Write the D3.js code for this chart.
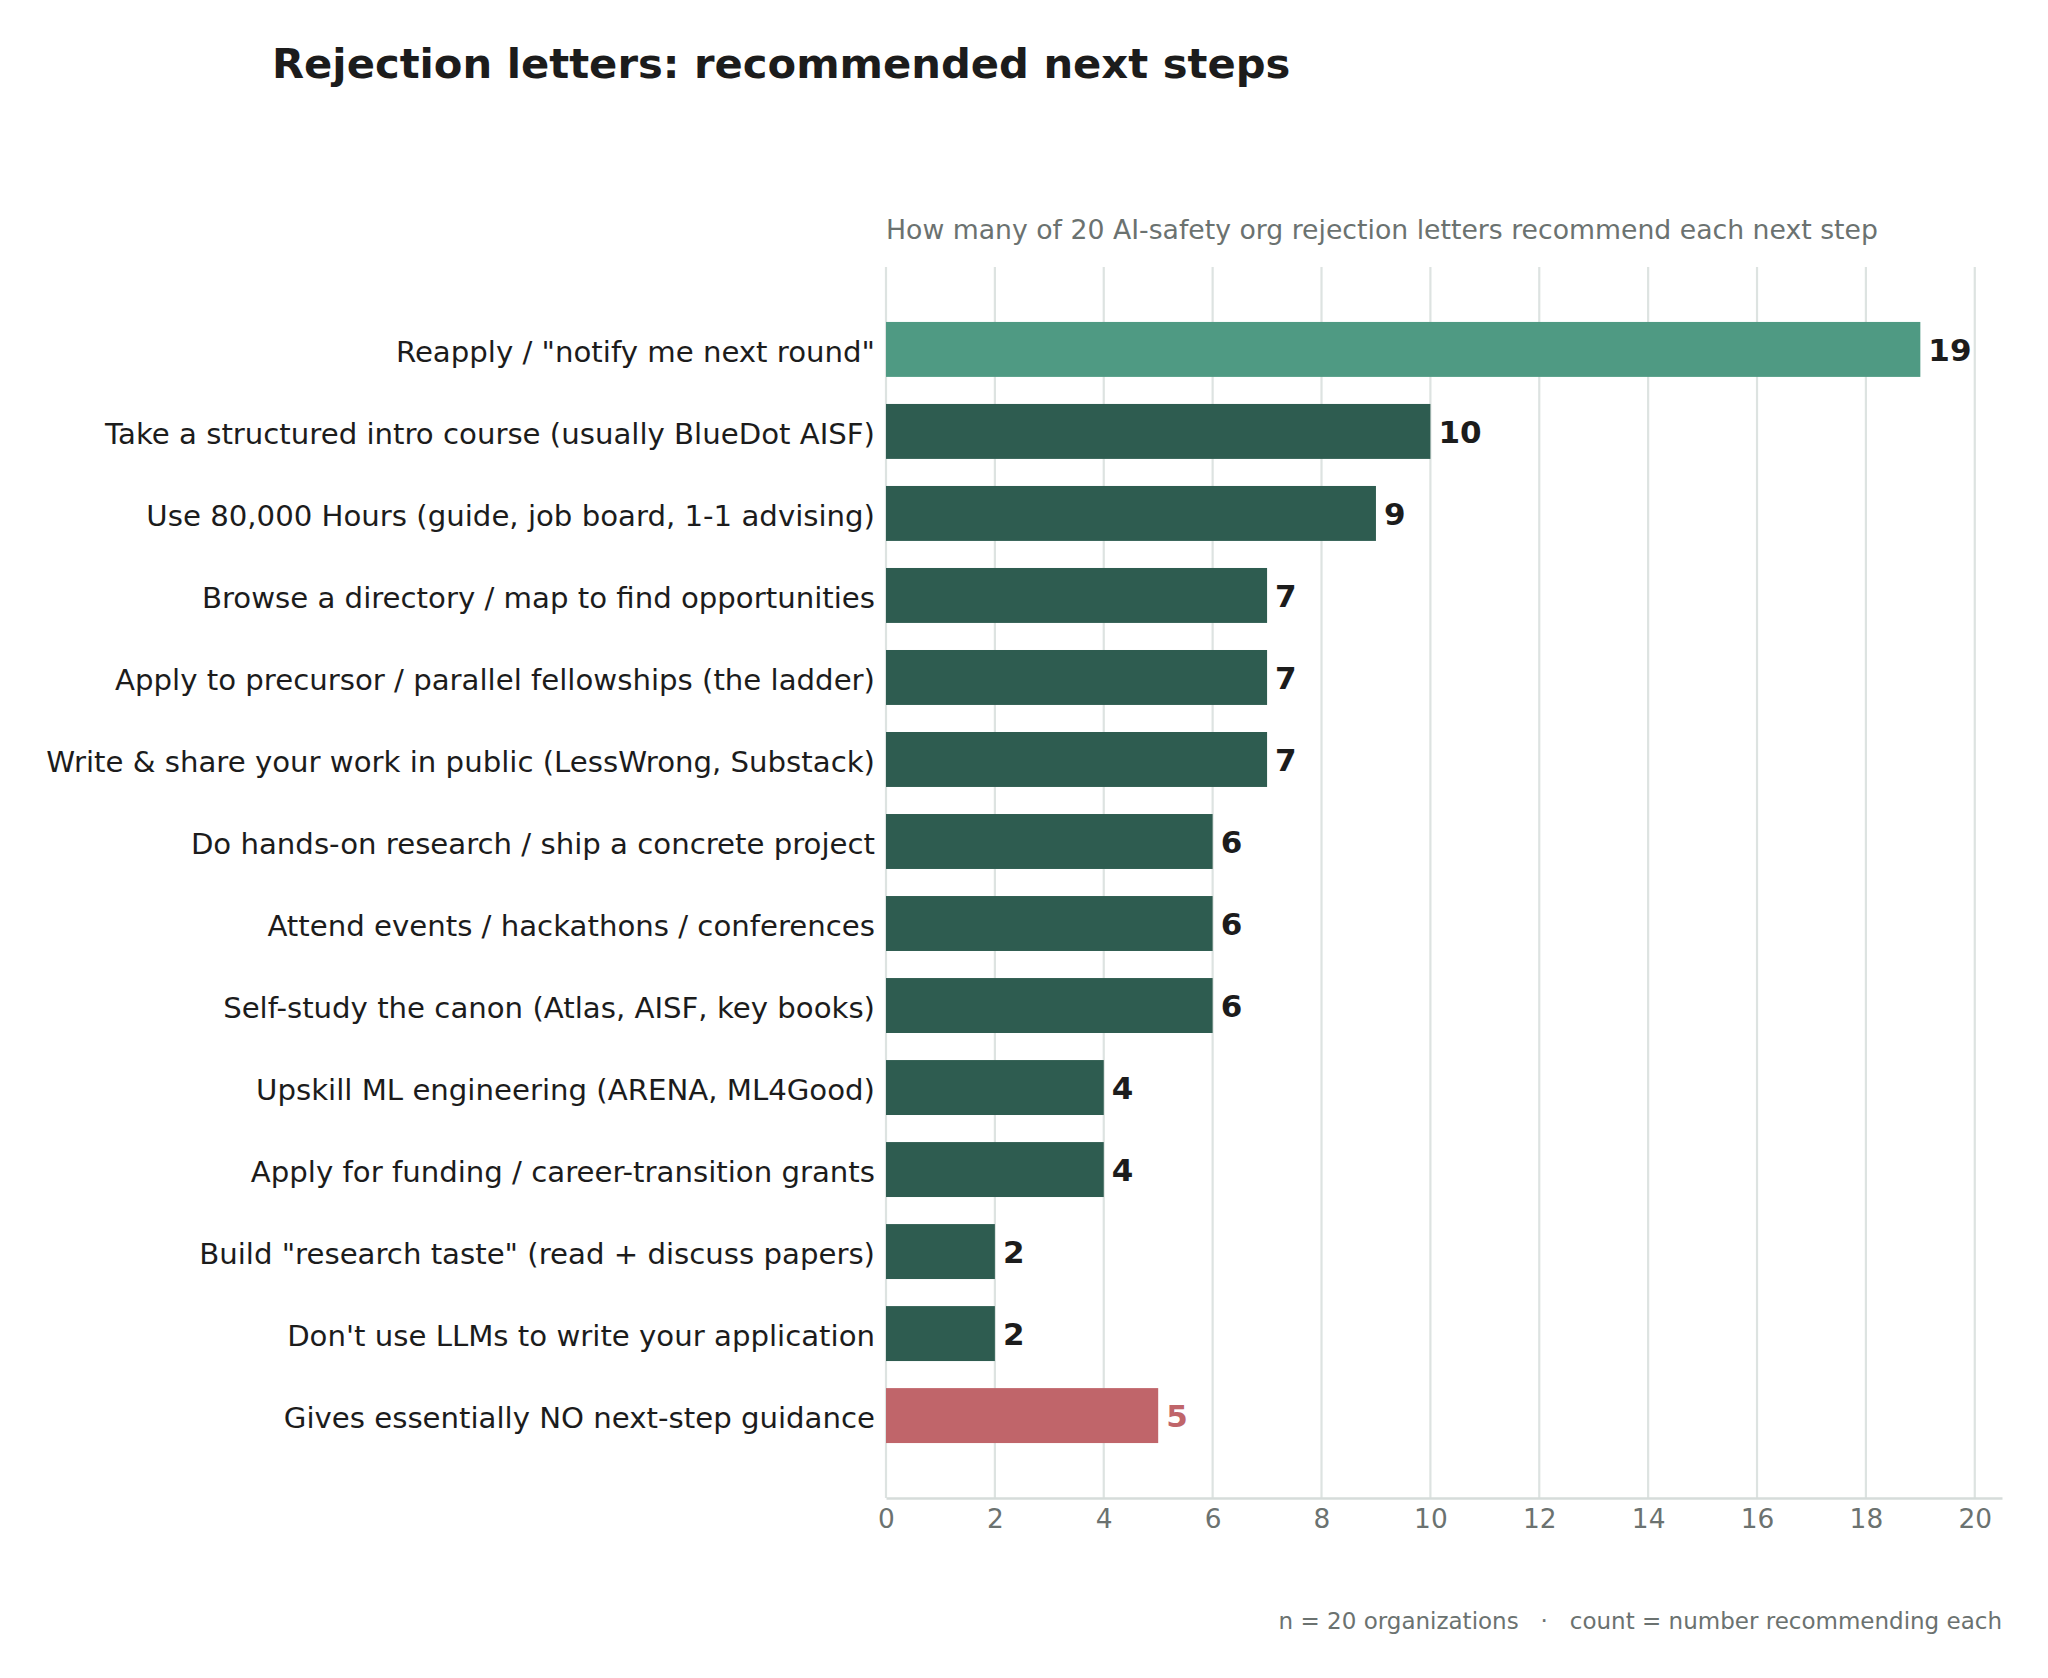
<!DOCTYPE html>
<html>
<head>
<meta charset="utf-8">
<script src="https://cdn.jsdelivr.net/npm/d3@7"></script>
<style>
  body { margin: 0; background: #fff; }
  svg { display: block; font-family: "DejaVu Sans", sans-serif; }
</style>
</head>
<body>
<svg id="canvas" width="2048" height="1678"></svg>
<script>
// ------------------------------------------------------------------ //
// Data

var categories = [
  'Reapply / "notify me next round"',
  'Take a structured intro course (usually BlueDot AISF)',
  'Use 80,000 Hours (guide, job board, 1-1 advising)',
  'Browse a directory / map to find opportunities',
  'Apply to precursor / parallel fellowships (the ladder)',
  'Write & share your work in public (LessWrong, Substack)',
  'Do hands-on research / ship a concrete project',
  'Attend events / hackathons / conferences',
  'Self-study the canon (Atlas, AISF, key books)',
  'Upskill ML engineering (ARENA, ML4Good)',
  'Apply for funding / career-transition grants',
  'Build "research taste" (read + discuss papers)',
  "Don't use LLMs to write your application",
  'Gives essentially NO next-step guidance'
];
var counts = [19, 10, 9, 7, 7, 7, 6, 6, 6, 4, 4, 2, 2, 5];
var kinds = ['top', 'step', 'step', 'step', 'step', 'step', 'step', 'step', 'step', 'step', 'step', 'step', 'step', 'none'];
var x_ticks = [0, 2, 4, 6, 8, 10, 12, 14, 16, 18, 20];

var title = 'Rejection letters: recommended next steps';
var subtitle = 'How many of 20 AI-safety org rejection letters recommend each next step';
var footer = 'n = 20 organizations   \u00b7   count = number recommending each';

// ------------------------------------------------------------------ //
// Layout

var left = 886, right = 2002, top_ = 267, bottom = 1498;
var colors = { top: '#4f9a83', step: '#2e5c50', none: '#c0656a' };
var label_colors = { top: '#1c1c1c', step: '#1c1c1c', none: '#c0656a' };

var svg = d3.select('#canvas');

var x = d3.scaleLinear().domain([0, 20.5]).range([left, right]);
var y = d3.scaleBand().domain(categories).range([top_, bottom]).paddingInner(0.33).paddingOuter(0.67);

// Gridlines
svg.append('g').selectAll('line').data(x_ticks).enter().append('line')
  .attr('x1', function(d){ return x(d); }).attr('x2', function(d){ return x(d); })
  .attr('y1', top_).attr('y2', bottom)
  .attr('stroke', '#dde3e1').attr('stroke-width', 2.2);

// Bars
var rows = categories.map(function(c, i){ return { cat: c, value: counts[i], kind: kinds[i] }; });

svg.append('g').selectAll('rect').data(rows).enter().append('rect')
  .attr('x', x(0))
  .attr('y', function(d){ return y(d.cat); })
  .attr('width', function(d){ return x(d.value) - x(0); })
  .attr('height', y.bandwidth())
  .attr('fill', function(d){ return colors[d.kind]; });

// Value labels
svg.append('g').selectAll('text').data(rows).enter().append('text')
  .attr('x', function(d){ return x(d.value) + 8; })
  .attr('y', function(d){ return y(d.cat) + y.bandwidth()/2; })
  .attr('dy', '0.37em')
  .style('font-size', '31px').style('font-weight', 'bold')
  .style('fill', function(d){ return label_colors[d.kind]; })
  .text(function(d){ return d.value; });

// X axis
var x_axis = svg.append('g').attr('transform', 'translate(0,' + bottom + ')')
  .call(d3.axisBottom(x).tickValues(x_ticks).tickSize(0).tickPadding(11));
x_axis.select('.domain').attr('stroke', '#d6dcda').attr('stroke-width', 2.5);
x_axis.selectAll('text').style('font-size', '26.4px').style('fill', '#6b7270').style('font-family', '"DejaVu Sans", sans-serif');

// Y axis (category labels)
var y_axis = svg.append('g').attr('transform', 'translate(' + left + ',0)')
  .call(d3.axisLeft(y).tickSize(0).tickPadding(11));
y_axis.select('.domain').remove();
y_axis.selectAll('text').attr('dy', '0.42em')
  .style('font-size', '29.2px').style('fill', '#1c1c1c').style('font-family', '"DejaVu Sans", sans-serif');

// Titles
svg.append('text').attr('x', 272).attr('y', 78)
  .style('font-size', '41.7px').style('font-weight', 'bold').style('fill', '#1c1c1c')
  .text(title);

svg.append('text').attr('x', left).attr('y', 239)
  .style('font-size', '26.7px').style('fill', '#6b7270')
  .text(subtitle);

svg.append('text').attr('x', right).attr('y', 1629).attr('text-anchor', 'end')
  .style('font-size', '23px').style('fill', '#6b7270').style('white-space', 'pre')
  .text(footer);
</script>
</body>
</html>
